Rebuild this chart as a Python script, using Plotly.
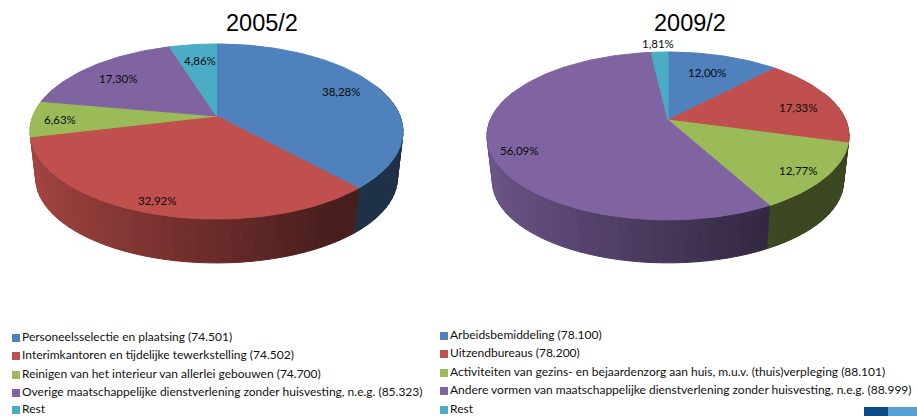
import math
import plotly.graph_objects as go

# ---- data ----
title_2005 = "2005/2"
title_2009 = "2009/2"
labels_2005 = ["Personeelsselectie en plaatsing (74.501)",
               "Interimkantoren en tijdelijke tewerkstelling (74.502)",
               "Reinigen van het interieur van allerlei gebouwen (74.700)",
               "Overige maatschappelijke dienstverlening zonder huisvesting, n.e.g. (85.323)",
               "Rest"]
values_2005 = [38.28, 32.92, 6.63, 17.30, 4.86]
labels_2009 = ["Arbeidsbemiddeling (78.100)",
               "Uitzendbureaus (78.200)",
               "Activiteiten van gezins- en bejaardenzorg aan huis, m.u.v. (thuis)verpleging (88.101)",
               "Andere vormen van maatschappelijke dienstverlening zonder huisvesting, n.e.g. (88.999)",
               "Rest"]
values_2009 = [12.00, 17.33, 12.77, 56.09, 1.81]
colors = ["#4F81BD", "#C0504D", "#9BBB59", "#8064A2", "#4BACC6"]

# ---- layout constants (pixels) ----
W, H = 917, 416
PIE_2005 = dict(cx=216.5, cy=116, s=183.5, c=84.8, k=0.177, drop=47, f=0.97)
PIE_2009 = dict(cx=668, cy=120, s=177.7, c=80.9, k=0.19, drop=46, f=0.97)
LABEL_XY_2005 = [(341, 91), (157, 200), (60, 119), (118, 78), (200, 60)]
LABEL_XY_2009 = [(707, 72), (798, 107), (798, 170), (519, 150), (658, 43)]
LEG_2005 = dict(x=16, ys=[338, 356, 375, 393, 410])
LEG_2009 = dict(x=444, ys=[336, 354, 373, 391, 410])
BODY_FONT = "Lato, 'Open Sans', sans-serif"


def project(p, theta, depth=False, r=1.0):
    """theta clockwise from 12 o'clock; perspective view of a circle."""
    x = r * math.sin(theta)
    y = -r * math.cos(theta)
    d = 1 - p["k"] * y
    sx = p["s"] * x / d
    sy = p["c"] * y / d
    if depth:
        return p["cx"] + p["f"] * sx, p["cy"] + p["drop"] + p["f"] * sy
    return p["cx"] + sx, p["cy"] + sy


def shade(hex_color, nx):
    factor = max(0.38, min(0.87, 0.87 - 0.32 * (nx + 1)))
    rgb = [int(hex_color[i:i + 2], 16) for i in (1, 3, 5)]
    return "rgb(%d,%d,%d)" % tuple(int(v * factor) for v in rgb)


fig = go.Figure()


def add_poly(xs, ys, color):
    fig.add_trace(go.Scatter(x=xs, y=ys, mode="lines", fill="toself", fillcolor=color,
                             line=dict(color=color, width=1), hoverinfo="skip", showlegend=False))


def draw_pie(p, values):
    total = sum(values)
    edges = [0.0]
    for v in values:
        edges.append(edges[-1] + v / total * 2 * math.pi)
    step = math.radians(3)
    # side wall, back to front
    segs = []
    for i in range(len(values)):
        a0, a1 = edges[i], edges[i + 1]
        n = max(1, math.ceil((a1 - a0) / step))
        for j in range(n):
            t0 = a0 + (a1 - a0) * j / n
            t1 = a0 + (a1 - a0) * (j + 1) / n
            tm = (t0 + t1) / 2
            if -math.cos(tm) > -0.35:
                segs.append((-math.cos(tm), i, t0, t1, tm))
    segs.sort()
    for _, i, t0, t1, tm in segs:
        a = project(p, t0)
        b = project(p, t1)
        c = project(p, t1, True)
        d = project(p, t0, True)
        add_poly([a[0], b[0], c[0], d[0], a[0]], [a[1], b[1], c[1], d[1], a[1]],
                 shade(colors[i], math.sin(tm)))
    # top face
    for i in range(len(values)):
        a0, a1 = edges[i], edges[i + 1]
        n = max(2, math.ceil((a1 - a0) / math.radians(1.5)))
        pts = [project(p, a0 + (a1 - a0) * j / n) for j in range(n + 1)]
        xs = [p["cx"]] + [q[0] for q in pts] + [p["cx"]]
        ys = [p["cy"]] + [q[1] for q in pts] + [p["cy"]]
        add_poly(xs, ys, colors[i])


def fmt(v):
    return f"{v:.2f}%".replace(".", ",")


draw_pie(PIE_2005, values_2005)
draw_pie(PIE_2009, values_2009)

annotations = []
for vals, xy in ((values_2005, LABEL_XY_2005), (values_2009, LABEL_XY_2009)):
    for v, (x, y) in zip(vals, xy):
        annotations.append(dict(x=x, y=y, text=fmt(v), showarrow=False,
                                font=dict(family=BODY_FONT, size=11.5, color="#0A0A0A")))
annotations.append(dict(x=262, y=23, text=title_2005, showarrow=False,
                        font=dict(family="Liberation Sans, Arial", size=23.5, color="black")))
annotations.append(dict(x=690, y=23, text=title_2009, showarrow=False,
                        font=dict(family="Liberation Sans, Arial", size=23.5, color="black")))

for labs, leg in ((labels_2005, LEG_2005), (labels_2009, LEG_2009)):
    fig.add_trace(go.Scatter(x=[leg["x"]] * len(labs), y=leg["ys"], mode="markers+text",
                             text=labs, textposition="middle right",
                             textfont=dict(family=BODY_FONT, size=12, color="#111111"),
                             marker=dict(symbol="square", size=8, color=colors),
                             hoverinfo="skip", showlegend=False, cliponaxis=False))

shapes = [
    dict(type="rect", xref="x", yref="y", x0=864, x1=888, y0=407, y1=416,
         fillcolor="#0B4A86", line_width=0),
    dict(type="rect", xref="x", yref="y", x0=888, x1=917, y0=407, y1=416,
         fillcolor="#559FD5", line_width=0),
]

fig.update_layout(width=W, height=H, margin=dict(l=0, r=0, t=0, b=0),
                  paper_bgcolor="white", plot_bgcolor="white", showlegend=False,
                  xaxis=dict(range=[0, W], visible=False, fixedrange=True),
                  yaxis=dict(range=[H, 0], visible=False, fixedrange=True),
                  annotations=annotations, shapes=shapes)
fig.write_html("out.html", post_script="document.body.style.margin='0';document.body.style.overflow='hidden';",
               config=dict(displayModeBar=False))
